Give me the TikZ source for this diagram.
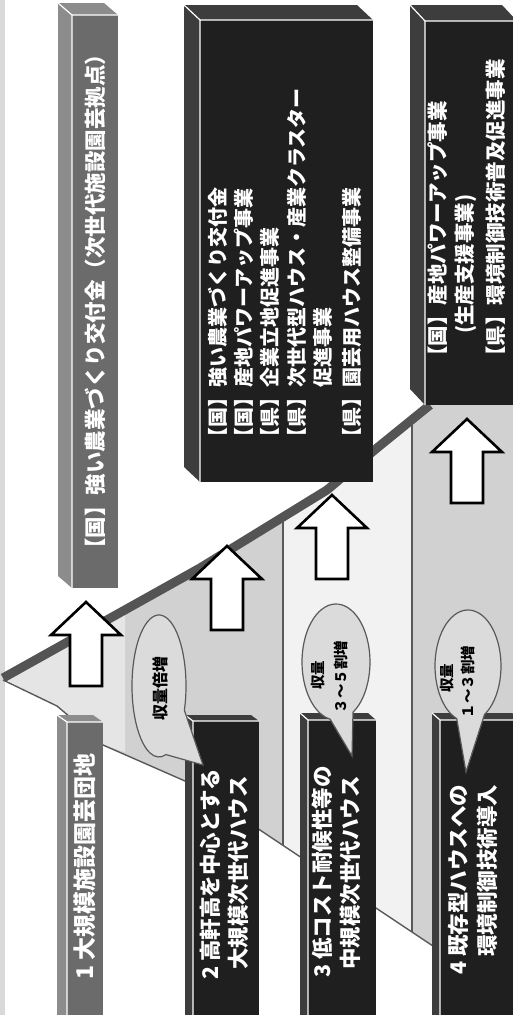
\documentclass[tikz,border=0pt]{standalone}
\usepackage{fontspec}
\newfontfamily\jp{Noto Sans CJK JP}
\usetikzlibrary{calc}
\definecolor{boxfront}{gray}{0.12}
\definecolor{boxside}{gray}{0.24}
\definecolor{grayfront}{gray}{0.42}
\definecolor{grayside}{gray}{0.55}
\definecolor{regiongray}{gray}{0.82}
\definecolor{regionlight}{gray}{0.95}
\definecolor{regionmid}{gray}{0.9}
\definecolor{rampcol}{gray}{0.33}
\definecolor{balloonfill}{gray}{0.86}
\definecolor{linecol}{gray}{0.35}

% x1 y1 x2 y2 dx dy frontcolour sidecolour
\newcommand\mybox[8]{%
  \fill[#8] (#1-#5,#2-#6) -- (#1,#2) -- (#1,#4) -- (#1-#5,#4-#6) -- cycle;
  \fill[#8] (#1-#5,#2-#6) -- (#3-#5,#2-#6) -- (#3,#2) -- (#1,#2) -- cycle;
  \fill[#7] (#1,#2) rectangle (#3,#4);
  \draw[white, line width=1.2pt] (#1,#4) -- (#1,#2) -- (#3,#2) (#1-#5,#2-#6) -- (#1,#2);
}

\tikzset{
  uparr/.pic={\filldraw[fill=white, draw=black, line width=2.6pt, line join=miter]
     (0,0) -- (35,33) -- (16,33) -- (16,84) -- (-16,84) -- (-16,33) -- (-35,33) -- cycle;},
  balloonstyle/.style={fill=balloonfill, draw=linecol, line width=1.2pt},
  boxtxt/.style={text=white, font=\jp\bfseries\fontsize{20}{24}\selectfont, inner sep=0pt, anchor=west, rotate=90},
  boxtxtc/.style={boxtxt, font=\jp\bfseries\fontsize{20.5}{24}\selectfont},
  boxtxta/.style={boxtxt, font=\jp\bfseries\fontsize{21.5}{24}\selectfont},
  lowtxt/.style={boxtxt, font=\jp\bfseries\fontsize{21.5}{24}\selectfont},
  lowtxtone/.style={boxtxt, font=\jp\bfseries\fontsize{23}{26}\selectfont},
  bltxt/.style={text=black, font=\jp\bfseries\fontsize{14.5}{17}\selectfont, inner sep=0pt, rotate=90},
}

\begin{document}
\begin{tikzpicture}[x=1pt,y=-1pt]
\useasboundingbox (0,0) rectangle (512,1015);
\fill[white] (0,0) rectangle (512,1015);
\fill[gray!30] (0,0) rectangle (5,1015);

% background region under the ramp
\fill[regiongray] (3,678) -- (200,568) -- (327,490) -- (377,448) -- (430,405) -- (520,405)
  -- (520,950) -- (433,946) -- (376,908) -- (302,858) -- (260,830) -- (185,781)
  -- (103,745) -- (57,706) -- cycle;
\fill[regionmid] (3,678) -- (125,610) -- (125,752) -- (103,745) -- (57,706) -- cycle;
\fill[regionlight] (283,517) -- (327,490) -- (377,448) -- (412,420) -- (412,932)
  -- (376,908) -- (302,858) -- (283,845) -- cycle;

% floor line and panel edges
\draw[linecol, line width=1.4pt] (3,680) -- (57,706) -- (103,745) -- (185,781) -- (260,830)
  -- (302,858) -- (376,908) -- (433,946);
\draw[linecol, line width=1.2pt] (283,517) -- (283,845);
\draw[linecol, line width=1.2pt] (412,420) -- (412,932);

% ramp
\draw[rampcol, line width=9pt, line join=round] (3,678) -- (200,568) -- (327,490) -- (377,448) -- (430,405);

% upper boxes
\mybox{72}{15}{118}{588}{14}{12}{grayfront}{grayside}
\mybox{200}{20}{373}{482}{16}{15}{boxfront}{boxside}
\mybox{425}{21}{517}{405}{15}{16}{boxfront}{boxside}

% lower boxes
\mybox{67}{722}{103}{1030}{10}{7}{grayfront}{grayside}
\mybox{193}{721}{259}{1030}{8}{6}{boxfront}{boxside}
\mybox{308}{720}{376}{1030}{8}{7}{boxfront}{boxside}
\mybox{440}{720}{520}{1030}{8}{7}{boxfront}{boxside}

% arrows
\pic at (86,602) {uparr};
\pic at (227,546) {uparr};
\pic at (332,495) {uparr};
\pic at (467,419) {uparr};

% balloons
\filldraw[balloonstyle] (159,686) ++(75:27 and 71) -- (203,765)
  -- ($(159,686)+(20:27 and 71)$) arc[start angle=20, end angle=-285, x radius=27, y radius=71] -- cycle;
\filldraw[balloonstyle] (336,662) ++(100:34 and 58) -- (352,756)
  -- ($(336,662)+(60:34 and 58)$) arc[start angle=60, end angle=-260, x radius=34, y radius=58] -- cycle;
\filldraw[balloonstyle] (468,666) ++(110:33 and 56) -- (466,772)
  -- ($(468,666)+(60:33 and 56)$) arc[start angle=60, end angle=-250, x radius=33, y radius=56] -- cycle;

\node[bltxt, font=\jp\bfseries\fontsize{16}{18}\selectfont] (bl1) at (160,688) {収量倍増};
\node[bltxt] (bl2a) at (318,675) {収量};
\node[bltxt] (bl2b) at (341,677) {３～５割増};
\node[bltxt] (bl3a) at (447,678) {収量};
\node[bltxt] (bl3b) at (468,682) {１～３割増};

% texts, upper boxes
\node[boxtxta] (ta) at (95,560) {【国】強い農業づくり交付金（次世代施設園芸拠点）};

\node[boxtxt] (tb1) at (218,448) {【国】強い農業づくり交付金};
\node[boxtxt] (tb2) at (244,448) {【国】産地パワーアップ事業};
\node[boxtxt] (tb3) at (270,448) {【県】企業立地促進事業};
\node[boxtxt] (tb4) at (297,448) {【県】次世代型ハウス・産業クラスター};
\node[boxtxt] (tb5) at (323,388) {促進事業};
\node[boxtxt] (tb6) at (352,448) {【県】園芸用ハウス整備事業};

\node[boxtxtc] (tc1) at (438,367) {【国】産地パワーアップ事業};
\node[boxtxtc] (tc2) at (466,334) {(生産支援事業)};
\node[boxtxtc] (tc3) at (496,367) {【県】環境制御技術普及促進事業};

% texts, lower boxes
\node[lowtxtone] (t1) at (85,980) {1 大規模施設園芸団地};
\node[lowtxt] (t2a) at (210,980) {2 高軒高を中心とする};
\node[lowtxt] (t2b) at (238,970) {大規模次世代ハウス};
\node[lowtxt] (t3a) at (322,978) {3 低コスト耐候性等の};
\node[lowtxt] (t3b) at (350,970) {中規模次世代ハウス};
\node[lowtxt] (t4a) at (458,975) {4 既存型ハウスへの};
\node[lowtxt] (t4b) at (487,957) {環境制御技術導入};
\end{tikzpicture}
\end{document}
